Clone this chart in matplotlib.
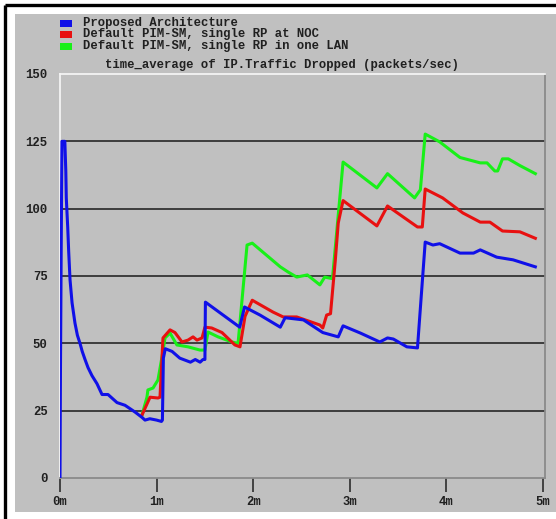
import matplotlib
matplotlib.use('Agg')
import matplotlib.pyplot as plt
from matplotlib.patches import Rectangle

# time in minutes, values in packets/sec
t_prop = [0, 0.005, 0.012, 0.02, 0.05, 0.06, 0.065, 0.08, 0.09, 0.104, 0.125, 0.155,
          0.18, 0.207, 0.23, 0.259, 0.29, 0.331, 0.383, 0.435, 0.497, 0.59, 0.673,
          0.776, 0.849, 0.88, 0.93, 1.0, 1.05, 1.06, 1.07, 1.09, 1.16, 1.24, 1.35,
          1.40, 1.45, 1.48, 1.50, 1.505, 1.86, 1.91, 2.07, 2.28, 2.33, 2.52, 2.72,
          2.88, 2.93, 3.11, 3.31, 3.39, 3.45, 3.59, 3.70, 3.78, 3.86, 3.93, 4.14,
          4.28, 4.35, 4.52, 4.69, 4.92]
v_prop = [0, 41, 83, 125, 125, 114, 104, 93, 84, 73.5, 65, 57.5,
          53, 50, 47, 44, 41, 38, 35, 31, 31, 28, 27,
          24.5, 22.5, 21.5, 22, 21.5, 21, 21.5, 44.5, 48, 47, 44.5, 43,
          44, 43, 44, 44, 65.3, 56, 63.5, 60.5, 56, 59.5, 58.7, 54,
          52.4, 56.5, 53.8, 50.5, 52, 51.6, 48.7, 48.3, 87.6, 86.5, 87, 83.5,
          83.5, 84.7, 82, 81, 78.4]

t_noc = [0.849, 0.932, 1.014, 1.035, 1.066, 1.139, 1.19, 1.263, 1.325, 1.377, 1.418,
         1.47, 1.50, 1.57, 1.677, 1.81, 1.863, 1.915, 1.99, 2.205, 2.31, 2.45, 2.69,
         2.72, 2.76, 2.80, 2.85, 2.88, 2.93, 3.28, 3.39, 3.70, 3.75, 3.78, 3.96, 4.17,
         4.35, 4.45, 4.58, 4.76, 4.92]
v_noc = [23.4, 30, 29.7, 30, 52, 55, 54, 50.5, 51.2, 52.4, 51.2,
         52, 56, 55.7, 54, 49.4, 48.7, 60, 66, 61.6, 59.8, 59.8, 56.8,
         55.7, 60.5, 61, 81, 94.7, 103, 93.6, 101, 93.2, 93.2, 107.3, 104, 98.4,
         95, 95, 91.7, 91.4, 89]

t_lan = [0.849, 0.90, 0.91, 0.963, 1.014, 1.056, 1.087, 1.139, 1.21, 1.325, 1.449,
         1.50, 1.532, 1.636, 1.78, 1.843, 1.936, 1.99, 2.28, 2.36, 2.45, 2.56, 2.69,
         2.74, 2.82, 2.93, 3.28, 3.39, 3.67, 3.73, 3.78, 3.93, 4.14, 4.35, 4.42, 4.50,
         4.53, 4.58, 4.64, 4.76, 4.92]
v_lan = [23.4, 30, 32.7, 33.4, 36.4, 45, 52, 53.8, 49.4, 48.7, 47.5,
         47.5, 54.2, 52.4, 50.5, 50, 86.5, 87.2, 78.4, 76.5, 74.6, 75.4, 71.7,
         74.6, 74, 117.3, 107.7, 113, 104, 107, 127.7, 124.8, 119, 117, 117, 114,
         114, 118.5, 118.5, 116, 113]

series_names = ['Proposed Architecture',
                'Default PIM-SM, single RP at NOC',
                'Default PIM-SM, single RP in one LAN']
colors = ['#1010e8', '#e81010', '#18f018']
yticks = [0, 25, 50, 75, 100, 125, 150]
xticks = [0, 1, 2, 3, 4, 5]
xlabels = ['0m', '1m', '2m', '3m', '4m', '5m']
title = 'time_average of IP.Traffic Dropped (packets/sec)'

W, H = 556, 519
FONT = 'Liberation Mono'
GRAY = '#c0c0c0'
TXT = dict(fontfamily=FONT, fontsize=8.8, fontweight='bold', color='#202020')

fig = plt.figure(figsize=(W / 100, H / 100), dpi=100, facecolor='white')

def px(x, y):
    # pixel (from top-left) -> figure fraction
    return x / W, 1 - y / H

# background axes holding the grey panel and the black frame
bg = fig.add_axes([0, 0, 1, 1], zorder=0)
bg.set_xlim(0, W)
bg.set_ylim(H, 0)
bg.axis('off')
bg.add_patch(Rectangle((15, 14), W - 15, 512 - 14, facecolor=GRAY, edgecolor='none'))
bg.plot([5, W], [5, 5], color='black', lw=2.4, solid_capstyle='butt')
bg.plot([5, 5], [5, H], color='black', lw=2.4, solid_capstyle='butt')

left, top = px(60, 74)
right, bottom = px(545, 478)
ax = fig.add_axes([left, bottom, right - left, top - bottom], zorder=1)
ax.set_facecolor(GRAY)

for yv in yticks[1:-1]:
    ax.axhline(yv, color='#1a1a1a', lw=1.1, zorder=1)

ax.plot(t_lan, v_lan, color=colors[2], lw=2.2, zorder=2)
ax.plot(t_noc, v_noc, color=colors[1], lw=2.2, zorder=3)
ax.plot(t_prop, v_prop, color=colors[0], lw=2.2, zorder=4)

ax.set_xlim(0, 5.02)
ax.set_ylim(0, 150)
ax.set_yticks(yticks)
ax.set_yticklabels([str(v) for v in yticks])
ax.set_xticks(xticks)
ax.set_xticklabels(xlabels)
ax.tick_params(axis='y', length=0, pad=9, labelsize=8.8, labelcolor='#202020')
ax.tick_params(axis='x', direction='out', length=10, width=1.1, color='#202020',
               pad=3, labelsize=8.8, labelcolor='#202020')
for lab in ax.get_xticklabels() + ax.get_yticklabels():
    lab.set_fontfamily(FONT)
    lab.set_fontweight('bold')

ax.spines['top'].set_color('#f4f4f4')
ax.spines['left'].set_color('#f4f4f4')
ax.spines['right'].set_color('#8a8a8a')
ax.spines['bottom'].set_color('#8a8a8a')
for s in ax.spines.values():
    s.set_linewidth(1.3)

# legend drawn like the original tool
for i, (name, c) in enumerate(zip(series_names, colors)):
    yc = 23 + i * 11.5
    bg.add_patch(Rectangle((60, yc - 3.5), 12, 7, facecolor=c, edgecolor='none'))
    bg.text(83, yc, name, va='center', ha='left', **TXT)

bg.text(105, 65, title, va='center', ha='left', **TXT)

fig.savefig('out.png', dpi=100, facecolor='white')
